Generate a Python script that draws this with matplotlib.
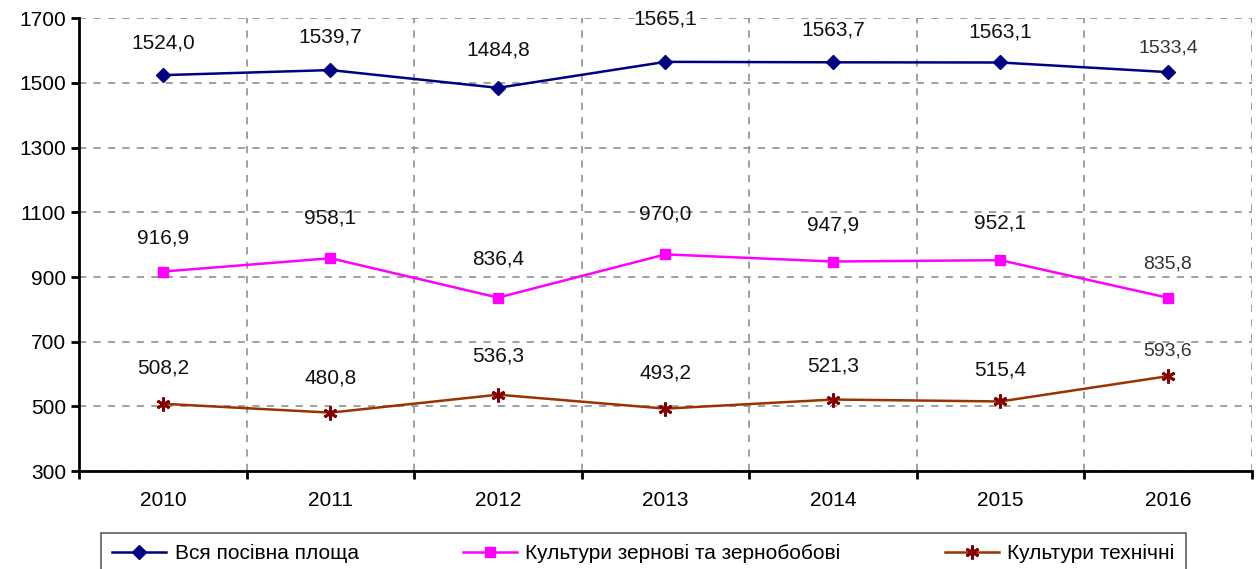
import numpy as np
import matplotlib.pyplot as plt

plt.rcParams['font.family'] = ['Liberation Sans', 'DejaVu Sans']

years = ['2010', '2011', '2012', '2013', '2014', '2015', '2016']
total = [1524.0, 1539.7, 1484.8, 1565.1, 1563.7, 1563.1, 1533.4]
grain = [916.9, 958.1, 836.4, 970.0, 947.9, 952.1, 835.8]
tech = [508.2, 480.8, 536.3, 493.2, 521.3, 515.4, 593.6]
names = ['Вся посівна площа', 'Культури зернові та зернобобові', 'Культури технічні']

# label offsets in points above the marker
off_total = [23, 24, 27, 31, 23, 22, 17]
off_grain = [24, 29, 28, 29, 26, 27, 24]
off_tech = [26, 25, 28, 26, 24, 23, 18]

fig = plt.figure(figsize=(12.58, 5.69), dpi=100)
ax = fig.add_axes([0.063, 0.172, 0.932, 0.796])
x = np.arange(len(years))

ax.plot(x, total, color='#000080', lw=1.8, marker='D', ms=7, label=names[0])
ax.plot(x, grain, color='#FF00FF', lw=1.8, marker='s', ms=7, label=names[1])
ax.plot(x, tech, color='#993300', lw=1.8, marker=(6, 2, 0), ms=10, mec='#800000',
        mew=2, label=names[2])

def fmt(v):
    return f'{v:.1f}'.replace('.', ',')

for series, offs in [(total, off_total), (grain, off_grain), (tech, off_tech)]:
    for i, v in enumerate(series):
        last = i == len(series) - 1
        ax.annotate(fmt(v), (x[i], v), xytext=(0, offs[i]), textcoords='offset points',
                    ha='center', va='center', fontsize=14 if last else 15,
                    color='#333333' if last else '#111111')

ax.set_ylim(300, 1700)
ax.set_yticks(range(300, 1701, 200))
ax.set_xlim(-0.5, 6.5)
ax.set_xticks(x)
ax.set_xticklabels(years)
ax.set_xticks(np.arange(-0.5, 6.6, 1), minor=True)
ax.tick_params(axis='x', which='major', length=0, pad=14, labelsize=15)
ax.tick_params(axis='x', which='minor', length=6, width=2)
ax.tick_params(axis='y', length=6, width=2, labelsize=15)
ax.grid(axis='y', which='major', ls=(0, (4, 4)), color='#999999', lw=1.3)
ax.grid(axis='x', which='minor', ls=(0, (4, 4)), color='#999999', lw=1.3)
ax.spines['top'].set_visible(False)
ax.spines['right'].set_visible(False)
ax.spines['left'].set_linewidth(2)
ax.spines['bottom'].set_linewidth(2)

leg = fig.legend(loc='lower left', bbox_to_anchor=(0.08, -0.01), ncol=3,
                 fontsize=15, frameon=True, fancybox=False, edgecolor='#333333',
                 handlelength=2.6, handletextpad=0.4, columnspacing=5.0,
                 borderpad=0.55, borderaxespad=0)
leg.get_frame().set_linewidth(1.2)

fig.savefig('out.png', dpi=100)
